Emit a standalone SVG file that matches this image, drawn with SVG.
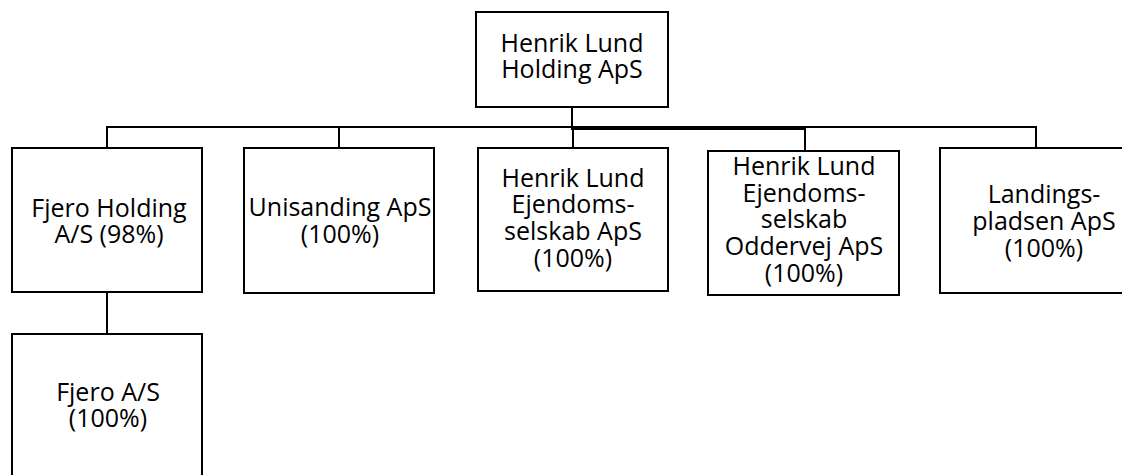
<svg xmlns="http://www.w3.org/2000/svg" width="1122" height="475" viewBox="0 0 1122 475">
<style>
.box{fill:#fff;stroke:#000;stroke-width:2}
.con{fill:none;stroke:#000;stroke-width:2}
text{font-family:"Open Sans","Noto Sans","DejaVu Sans",sans-serif;font-size:25px;fill:#000;text-anchor:middle}
</style>
<rect width="1122" height="475" fill="#fff"/>
<g id="connectors">
<path class="con" d="M572,107 V127 H107 V148"/>
<path class="con" d="M572,127 H339 V148"/>
<path class="con" d="M572,127 H1036 V148"/>
<path class="con" d="M572,127 V129 H805 V151"/>
<path class="con" d="M573,129 V148"/>
<path class="con" d="M107,292 V334"/>
</g>
<g id="henrik-lund-holding">
<rect class="box" x="476" y="12" width="192" height="95"/>
<text x="572" y="52">Henrik Lund</text>
<text x="572" y="78">Holding ApS</text>
</g>
<g id="fjero-holding">
<rect class="box" x="12" y="148" width="190" height="144"/>
<text x="109" y="217">Fjero Holding</text>
<text x="109" y="243">A/S (98%)</text>
</g>
<g id="unisanding">
<rect class="box" x="244" y="148" width="190" height="145"/>
<text x="340" y="216">Unisanding ApS</text>
<text x="340" y="243">(100%)</text>
</g>
<g id="henrik-lund-ejendomsselskab">
<rect class="box" x="478" y="148" width="190" height="143"/>
<text x="573" y="187">Henrik Lund</text>
<text x="573" y="213">Ejendoms-</text>
<text x="573" y="240">selskab ApS</text>
<text x="573" y="267">(100%)</text>
</g>
<g id="henrik-lund-oddervej">
<rect class="box" x="708" y="151" width="191" height="144"/>
<text x="804" y="175">Henrik Lund</text>
<text x="804" y="202">Ejendoms-</text>
<text x="804" y="228">selskab</text>
<text x="804" y="255">Oddervej ApS</text>
<text x="804" y="282">(100%)</text>
</g>
<g id="landingspladsen">
<rect class="box" x="940" y="148" width="194" height="145"/>
<text x="1044" y="203">Landings-</text>
<text x="1044" y="230">pladsen ApS</text>
<text x="1044" y="257">(100%)</text>
</g>
<g id="fjero-as">
<rect class="box" x="12" y="334" width="190" height="160"/>
<text x="108" y="401">Fjero A/S</text>
<text x="108" y="427">(100%)</text>
</g>
</svg>
